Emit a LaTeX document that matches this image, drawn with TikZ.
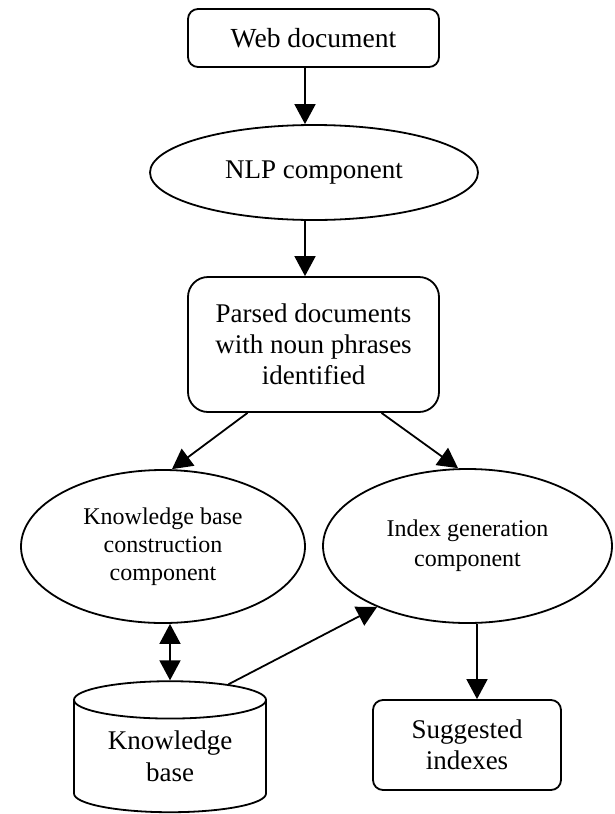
\documentclass[tikz,border=0pt]{standalone}
\usepackage{fontspec}
\setmainfont{Liberation Serif}
\usetikzlibrary{arrows.meta, shapes.geometric}

\begin{document}
\begin{tikzpicture}[x=0.5pt, y=-0.5pt,
  box/.style={draw, rounded corners=5pt, align=center, inner sep=0pt,
    line width=0.9pt, font=\fontsize{13.5}{15.5}\selectfont},
  oval/.style={draw, ellipse, align=center, inner sep=0pt,
    line width=0.9pt, font=\fontsize{12}{14}\selectfont},
  arr/.style={line width=0.9pt, -{Triangle[length=10pt, width=10.5pt]}},
  darr/.style={line width=0.9pt,
    {Triangle[length=10pt, width=10.5pt]}-{Triangle[length=10pt, width=10.5pt]}}]

\useasboundingbox (0,0) rectangle (615,814);

% 1. 上面的三个结点
\node[box, minimum width=125.5pt, minimum height=29pt,
  font=\fontsize{13.8}{15.5}\selectfont] (web) at (313.5, 38) {Web document};
\node[oval, minimum width=164pt, minimum height=47.5pt,
  font=\fontsize{13.5}{15.5}\selectfont] (nlp) at (314, 172.5) {NLP component};
\node[box, rounded corners=10pt, minimum width=125.5pt, minimum height=67.5pt]
  (parsed) at (313.5, 344.5) {Parsed documents\\with noun phrases\\identified};

% 2. 两个组件
\node[oval, minimum width=142pt, minimum height=76.5pt]
  (kbc) at (163, 546.5) {Knowledge base\\construction\\component};
\node[oval, minimum width=144.5pt, minimum height=77pt,
  font=\fontsize{12}{15}\selectfont]
  (idx) at (467.5, 546) {Index generation\\component};

% 3. 知识库和结果
\node[draw, cylinder, shape border rotate=90, aspect=0.3, align=center,
  inner sep=0pt, line width=0.9pt, minimum width=96pt, minimum height=65.5pt,
  font=\fontsize{13.5}{16}\selectfont] (kb) at (170, 756.5) {Knowledge\\base};
\node[box, minimum width=94pt, minimum height=45pt] (sugg) at (467, 745) {Suggested\\indexes};

% 4. 箭头
\draw[arr] ([xshift=-4.25pt]web.south) -- ([xshift=-4.5pt]nlp.north);
\draw[arr] ([xshift=-4.5pt]nlp.south) -- ([xshift=-4.25pt]parsed.north);
\draw[arr] ([xshift=-33pt]parsed.south) -- ([xshift=4.5pt]kbc.north);
\draw[arr] ([xshift=34pt]parsed.south) -- ([xshift=-4.75pt]idx.north);
\draw[darr] ([xshift=3.5pt]kbc.south) -- (kb.north);
\draw[arr] (kb.51) -- (idx.214);
\draw[arr] ([xshift=4.75pt]idx.south) -- ([xshift=5pt]sugg.north);
\end{tikzpicture}
\end{document}
